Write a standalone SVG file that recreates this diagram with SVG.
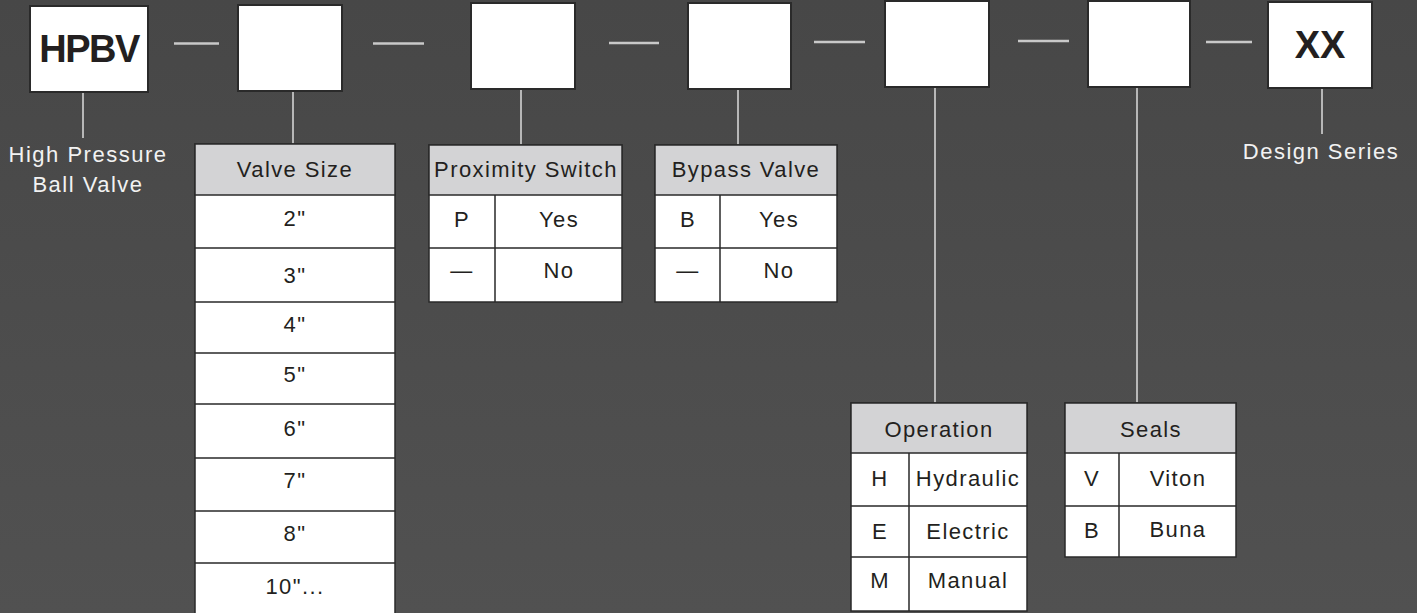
<svg xmlns="http://www.w3.org/2000/svg" width="1417" height="613" viewBox="0 0 1417 613">
<defs>
<linearGradient id="bg" x1="0" y1="0" x2="0" y2="1">
<stop offset="0" stop-color="#474747"/><stop offset="1" stop-color="#515151"/>
</linearGradient>
<style>
.code{fill:#fff;stroke:#2a2a2a;stroke-width:2}
.cell{fill:#fff;stroke:#2a2a2a;stroke-width:1.5}
.hdr{fill:#d3d3d5;stroke:#2a2a2a;stroke-width:1.5}
.grid{stroke:#2a2a2a;stroke-width:1.5;fill:none}
.dash{stroke:#c9c9c9;stroke-width:2.5}
.drop{stroke:#dcdcdc;stroke-width:1.5}
text{font-family:"Liberation Sans",Arial,sans-serif}
.big{font-size:38px;font-weight:bold;fill:#231f20;text-anchor:middle}
.lbl{font-size:22px;fill:#f2f2f2;text-anchor:middle;letter-spacing:1.5px}
.t{font-size:22px;fill:#231f20;text-anchor:middle;letter-spacing:1.4px}
</style>
</defs>
<rect x="0" y="0" width="1417" height="613" fill="url(#bg)"/>

<g id="connectors">
<line class="dash" x1="174" y1="43.5" x2="219" y2="43.5"/>
<line class="dash" x1="373" y1="43.5" x2="424" y2="43.5"/>
<line class="dash" x1="609" y1="43" x2="659" y2="43"/>
<line class="dash" x1="814" y1="42" x2="865" y2="42"/>
<line class="dash" x1="1018" y1="41" x2="1069" y2="41"/>
<line class="dash" x1="1206" y1="42" x2="1252" y2="42"/>
<line class="drop" x1="83" y1="92" x2="83" y2="138"/>
<line class="drop" x1="293" y1="91" x2="293" y2="144"/>
<line class="drop" x1="521" y1="89" x2="521" y2="145"/>
<line class="drop" x1="738" y1="89" x2="738" y2="145"/>
<line class="drop" x1="935" y1="87" x2="935" y2="403"/>
<line class="drop" x1="1137" y1="87" x2="1137" y2="403"/>
<line class="drop" x1="1322" y1="88" x2="1322" y2="134"/>
</g>

<g id="code-hpbv">
<rect class="code" x="30" y="6" width="118" height="86"/>
<text class="big" x="89" y="62" letter-spacing="-1.5">HPBV</text>
</g>
<g id="code-size"><rect class="code" x="238" y="5" width="104" height="86"/></g>
<g id="code-prox"><rect class="code" x="471" y="3" width="104" height="86"/></g>
<g id="code-bypass"><rect class="code" x="688" y="3" width="103" height="86"/></g>
<g id="code-operation"><rect class="code" x="885" y="1" width="104" height="86"/></g>
<g id="code-seals"><rect class="code" x="1088" y="1" width="102" height="86"/></g>
<g id="code-xx">
<rect class="code" x="1268" y="2" width="104" height="86"/>
<text class="big" x="1320" y="58">XX</text>
</g>

<g id="label-hpbv">
<text class="lbl" x="88" y="162">High Pressure</text>
<text class="lbl" x="88" y="192">Ball Valve</text>
</g>
<g id="label-design">
<text class="lbl" x="1321" y="159">Design Series</text>
</g>

<g id="table-valve-size">
<rect class="cell" x="195" y="144" width="200" height="472"/>
<rect class="hdr" x="195" y="144" width="200" height="51"/>
<path class="grid" d="M195 248H395M195 302H395M195 353H395M195 404H395M195 458H395M195 511H395M195 563H395"/>
<text class="t" x="295" y="177">Valve Size</text>
<text class="t" x="295" y="226">2"</text>
<text class="t" x="295" y="283">3"</text>
<text class="t" x="295" y="332">4"</text>
<text class="t" x="295" y="382">5"</text>
<text class="t" x="295" y="436">6"</text>
<text class="t" x="295" y="488">7"</text>
<text class="t" x="295" y="541">8"</text>
<text class="t" x="295" y="594">10"...</text>
</g>

<g id="table-proximity">
<rect class="cell" x="429" y="145" width="193" height="157"/>
<rect class="hdr" x="429" y="145" width="193" height="50"/>
<path class="grid" d="M429 248H622M495 195V302"/>
<text class="t" x="526" y="177" letter-spacing="0.8">Proximity Switch</text>
<text class="t" x="462" y="227">P</text>
<text class="t" x="559" y="227">Yes</text>
<text class="t" x="462" y="278">—</text>
<text class="t" x="559" y="278">No</text>
</g>

<g id="table-bypass">
<rect class="cell" x="655" y="145" width="182" height="157"/>
<rect class="hdr" x="655" y="145" width="182" height="50"/>
<path class="grid" d="M655 248H837M720 195V302"/>
<text class="t" x="746" y="177">Bypass Valve</text>
<text class="t" x="688" y="227">B</text>
<text class="t" x="779" y="227">Yes</text>
<text class="t" x="688" y="278">—</text>
<text class="t" x="779" y="278">No</text>
</g>

<g id="table-operation">
<rect class="cell" x="851" y="403" width="176" height="208"/>
<rect class="hdr" x="851" y="403" width="176" height="50"/>
<path class="grid" d="M851 506H1027M851 557H1027M909 453V611"/>
<text class="t" x="939" y="437">Operation</text>
<text class="t" x="880" y="486">H</text>
<text class="t" x="968" y="486">Hydraulic</text>
<text class="t" x="880" y="539">E</text>
<text class="t" x="968" y="539">Electric</text>
<text class="t" x="880" y="588">M</text>
<text class="t" x="968" y="588">Manual</text>
</g>

<g id="table-seals">
<rect class="cell" x="1065" y="403" width="171" height="154"/>
<rect class="hdr" x="1065" y="403" width="171" height="50"/>
<path class="grid" d="M1065 506H1236M1119 453V557"/>
<text class="t" x="1151" y="437">Seals</text>
<text class="t" x="1092" y="486">V</text>
<text class="t" x="1178" y="486">Viton</text>
<text class="t" x="1092" y="538">B</text>
<text class="t" x="1178" y="537">Buna</text>
</g>
</svg>
